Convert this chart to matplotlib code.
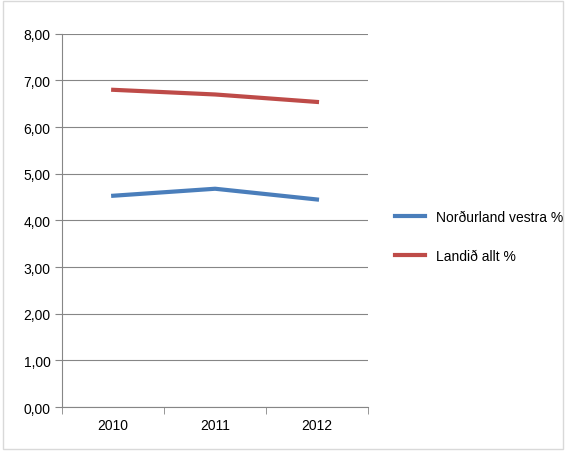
import matplotlib
matplotlib.use("Agg")
import matplotlib.pyplot as plt

years = ["2010", "2011", "2012"]
nordurland = [4.53, 4.68, 4.45]
landid = [6.80, 6.70, 6.54]

plt.rcParams['font.family'] = ['Liberation Sans', 'DejaVu Sans']
fig = plt.figure(figsize=(5.66, 4.52), dpi=100)
ax = fig.add_axes([0.110, 0.097, 0.540, 0.826])
x = range(len(years))
l1, = ax.plot(x, nordurland, color="#4a7ebb", lw=3, label="Norðurland vestra %")
l2, = ax.plot(x, landid, color="#be4b48", lw=3, label="Landið allt %")
ax.set_xlim(-0.5, 2.5)
ax.set_ylim(0, 8)
ax.set_yticks([i for i in range(9)])
ax.set_yticklabels([f"{i},00" for i in range(9)], fontsize=10)
ax.set_xticks(list(x))
ax.set_xticklabels(years, fontsize=10)
ax.set_xticks([-0.5, 0.5, 1.5, 2.5], minor=True)
ax.tick_params(axis='x', which='major', length=0, pad=8)
ax.tick_params(axis='x', which='minor', length=5, color="#868686")
ax.tick_params(axis='y', length=5, color="#868686", direction='out')
ax.grid(axis='y', color="#868686", lw=0.8)
ax.set_axisbelow(True)
for s in ['top', 'right']:
    ax.spines[s].set_visible(False)
for s in ['left', 'bottom']:
    ax.spines[s].set_color("#868686")
fig.legend(handles=[l1, l2], loc='center left', bbox_to_anchor=(0.675, 0.475),
           frameon=False, fontsize=10, handlelength=2.2, labelspacing=1.8)
fig.patches.append(plt.Rectangle((0.005, 0.005), 0.99, 0.99, transform=fig.transFigure,
                                 fill=False, edgecolor="#d9d9d9", lw=1))
fig.savefig("out.png", dpi=100)
